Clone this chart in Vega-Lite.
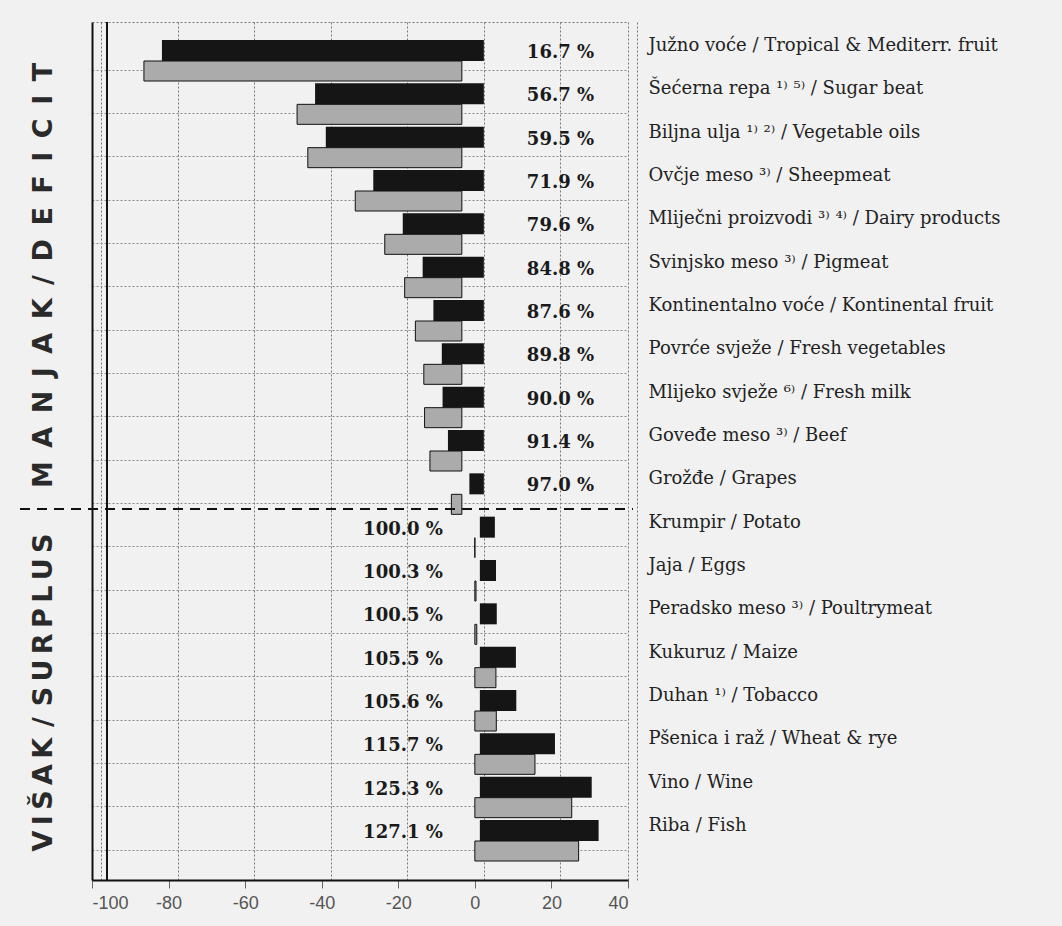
{
  "$schema": "https://vega.github.io/schema/vega-lite/v6.json",
  "width": 536,
  "height": 858,
  "autosize": {"type": "none"},
  "padding": {"left": 92, "top": 22, "right": 434, "bottom": 46},
  "background": "#f1f1f1",
  "config": {"view": {"stroke": "#777777", "strokeDash": [2, 2], "strokeWidth": 1}},
  "data": {"values": [
    {"item": "Južno voće / Tropical & Mediterr. fruit", "pct": 16.7, "diff": -83.3, "label": "16.7 %", "side": "deficit"},
    {"item": "Šećerna repa ¹⁾ ⁵⁾ / Sugar beat", "pct": 56.7, "diff": -43.3, "label": "56.7 %", "side": "deficit"},
    {"item": "Biljna ulja ¹⁾ ²⁾ / Vegetable oils", "pct": 59.5, "diff": -40.5, "label": "59.5 %", "side": "deficit"},
    {"item": "Ovčje meso ³⁾ / Sheepmeat", "pct": 71.9, "diff": -28.1, "label": "71.9 %", "side": "deficit"},
    {"item": "Mliječni proizvodi ³⁾ ⁴⁾ / Dairy products", "pct": 79.6, "diff": -20.4, "label": "79.6 %", "side": "deficit"},
    {"item": "Svinjsko meso ³⁾ / Pigmeat", "pct": 84.8, "diff": -15.2, "label": "84.8 %", "side": "deficit"},
    {"item": "Kontinentalno voće / Kontinental fruit", "pct": 87.6, "diff": -12.4, "label": "87.6 %", "side": "deficit"},
    {"item": "Povrće svježe / Fresh vegetables", "pct": 89.8, "diff": -10.2, "label": "89.8 %", "side": "deficit"},
    {"item": "Mlijeko svježe ⁶⁾ / Fresh milk", "pct": 90.0, "diff": -10.0, "label": "90.0 %", "side": "deficit"},
    {"item": "Goveđe meso ³⁾ / Beef", "pct": 91.4, "diff": -8.6, "label": "91.4 %", "side": "deficit"},
    {"item": "Grožđe / Grapes", "pct": 97.0, "diff": -3.0, "label": "97.0 %", "side": "deficit"},
    {"item": "Krumpir / Potato", "pct": 100.0, "diff": 0.0, "label": "100.0 %", "side": "surplus"},
    {"item": "Jaja / Eggs", "pct": 100.3, "diff": 0.3, "label": "100.3 %", "side": "surplus"},
    {"item": "Peradsko meso ³⁾ / Poultrymeat", "pct": 100.5, "diff": 0.5, "label": "100.5 %", "side": "surplus"},
    {"item": "Kukuruz / Maize", "pct": 105.5, "diff": 5.5, "label": "105.5 %", "side": "surplus"},
    {"item": "Duhan ¹⁾ / Tobacco", "pct": 105.6, "diff": 5.6, "label": "105.6 %", "side": "surplus"},
    {"item": "Pšenica i raž / Wheat & rye", "pct": 115.7, "diff": 15.7, "label": "115.7 %", "side": "surplus"},
    {"item": "Vino / Wine", "pct": 125.3, "diff": 25.3, "label": "125.3 %", "side": "surplus"},
    {"item": "Riba / Fish", "pct": 127.1, "diff": 27.1, "label": "127.1 %", "side": "surplus"}
  ]},
  "resolve": {"axis": {"x": "independent", "y": "independent"}},
  "layer": [
    {
      "transform": [{"filter": "datum.side == 'deficit'"}],
      "mark": {"type": "bar", "color": "#151515", "height": 21, "yOffset": -10.5, "xOffset": 6, "x2Offset": 9},
      "encoding": {
        "y": {
          "field": "item", "type": "nominal", "sort": null,
          "scale": {"domain": [
            "Južno voće / Tropical & Mediterr. fruit", "Šećerna repa ¹⁾ ⁵⁾ / Sugar beat", "Biljna ulja ¹⁾ ²⁾ / Vegetable oils",
            "Ovčje meso ³⁾ / Sheepmeat", "Mliječni proizvodi ³⁾ ⁴⁾ / Dairy products", "Svinjsko meso ³⁾ / Pigmeat",
            "Kontinentalno voće / Kontinental fruit", "Povrće svježe / Fresh vegetables", "Mlijeko svježe ⁶⁾ / Fresh milk",
            "Goveđe meso ³⁾ / Beef", "Grožđe / Grapes", "Krumpir / Potato", "Jaja / Eggs", "Peradsko meso ³⁾ / Poultrymeat",
            "Kukuruz / Maize", "Duhan ¹⁾ / Tobacco", "Pšenica i raž / Wheat & rye", "Vino / Wine", "Riba / Fish"],
            "paddingInner": 0, "paddingOuter": 0.4},
          "axis": {
            "orient": "left", "labels": false, "ticks": false, "domain": true, "domainColor": "#111111", "domainWidth": 2,
            "grid": true, "gridColor": "#8a8a8a", "gridDash": [2, 2], "gridWidth": 1, "bandPosition": 0.71,
            "title": "M\u2002A\u2002N\u2002J\u2002A\u2002K\u2002/\u2002D\u2002E\u2002F\u2002I\u2002C\u2002I\u2002T", "titleFont": "DejaVu Sans", "titleFontSize": 27, "titleFontWeight": "bold",
            "titleColor": "#2a2a2a", "titleAngle": 270, "titleX": -49, "titleY": 253, "titleAlign": "center", "titleBaseline": "middle"
          }
        },
        "x": {
          "field": "diff", "type": "quantitative",
          "scale": {"domain": [-100, 40], "nice": false, "zero": false},
          "axis": {
            "orient": "bottom", "grid": false, "values": [-100, -80, -60, -40, -20, 0, 20, 40],
            "labelExpr": "replace(datum.label, '\u2212', '-')",
            "labelFont": "Liberation Sans", "labelFontSize": 18, "labelColor": "#555555",
            "ticks": true, "tickSize": 8, "tickColor": "#666666", "domain": true, "domainColor": "#111111", "domainWidth": 2,
            "labelPadding": 6, "title": null
          }
        },
        "x2": {"datum": 0}
      }
    },
    {
      "transform": [{"filter": "datum.side == 'surplus'"}],
      "mark": {"type": "bar", "color": "#151515", "height": 21, "yOffset": -10.5, "xOffset": 20, "x2Offset": 5},
      "encoding": {
        "y": {
          "field": "item", "type": "nominal", "sort": null,
          "axis": {
            "orient": "right", "labels": true, "ticks": false, "domain": false, "grid": false,
            "labelPadding": 20, "labelFont": "DejaVu Serif", "labelFontSize": 18, "labelColor": "#222222",
            "labelLimit": 420, "labelOffset": -15, "labelAlign": "left",
            "title": "V\u2009I\u2009Š\u2009A\u2009K\u2009\u2009/\u2009\u2009S\u2009U\u2009R\u2009P\u2009L\u2009U\u2009S", "titleFont": "DejaVu Sans", "titleFontSize": 27, "titleFontWeight": "bold",
            "titleColor": "#2a2a2a", "titleAngle": 270, "titleX": -585, "titleY": 670, "titleAlign": "center", "titleBaseline": "middle"
          }
        },
        "x": {
          "field": "diff", "type": "quantitative",
          "axis": {
            "orient": "bottom", "labels": false, "ticks": false, "domain": false, "grid": true,
            "gridColor": "#777777", "gridDash": [2, 2], "gridWidth": 1, "tickOffset": 9,
            "values": [-100, -80, -60, -40, -20, 0, 20, 40], "title": null
          }
        },
        "x2": {"datum": 0}
      }
    },
    {
      "transform": [{"filter": "datum.side == 'deficit'"}],
      "mark": {"type": "bar", "color": "#ababab", "stroke": "#111111", "strokeWidth": 1, "height": 20, "yOffset": 10, "xOffset": -12, "x2Offset": -13},
      "encoding": {
        "y": {"field": "item", "type": "nominal", "sort": null, "axis": null},
        "x": {"field": "diff", "type": "quantitative", "axis": null},
        "x2": {"datum": 0}
      }
    },
    {
      "transform": [{"filter": "datum.side == 'surplus'"}],
      "mark": {"type": "bar", "color": "#ababab", "stroke": "#111111", "strokeWidth": 1, "height": 20, "yOffset": 10},
      "encoding": {
        "y": {"field": "item", "type": "nominal", "sort": null, "axis": null},
        "x": {"field": "diff", "type": "quantitative", "axis": null},
        "x2": {"datum": 0}
      }
    },
    {
      "mark": {"type": "rule", "strokeDash": [10, 7], "strokeWidth": 2, "color": "#111111", "xOffset": -72, "x2Offset": 5, "yOffset": -7},
      "encoding": {
        "y": {"datum": "Krumpir / Potato", "type": "nominal", "bandPosition": 0, "axis": null},
        "x": {"datum": -100, "type": "quantitative", "axis": null},
        "x2": {"datum": 40}
      }
    },
    {
      "mark": {"type": "rule", "strokeWidth": 2, "color": "#111111", "xOffset": 15},
      "encoding": {
        "x": {"datum": -100, "type": "quantitative", "axis": null}
      }
    },
    {
      "transform": [{"filter": "datum.side == 'deficit'"}],
      "mark": {"type": "text", "font": "DejaVu Serif", "fontWeight": "bold", "fontSize": 18, "color": "#1a1a1a", "align": "left", "baseline": "middle", "dx": 52, "dy": -8},
      "encoding": {
        "y": {"field": "item", "type": "nominal", "sort": null, "axis": null},
        "x": {"datum": 0, "type": "quantitative", "axis": null},
        "text": {"field": "label"}
      }
    },
    {
      "transform": [{"filter": "datum.side == 'surplus'"}],
      "mark": {"type": "text", "font": "DejaVu Serif", "fontWeight": "bold", "fontSize": 18, "color": "#1a1a1a", "align": "right", "baseline": "middle", "dx": -32, "dy": -8},
      "encoding": {
        "y": {"field": "item", "type": "nominal", "sort": null, "axis": null},
        "x": {"datum": 0, "type": "quantitative", "axis": null},
        "text": {"field": "label"}
      }
    }
  ]
}
